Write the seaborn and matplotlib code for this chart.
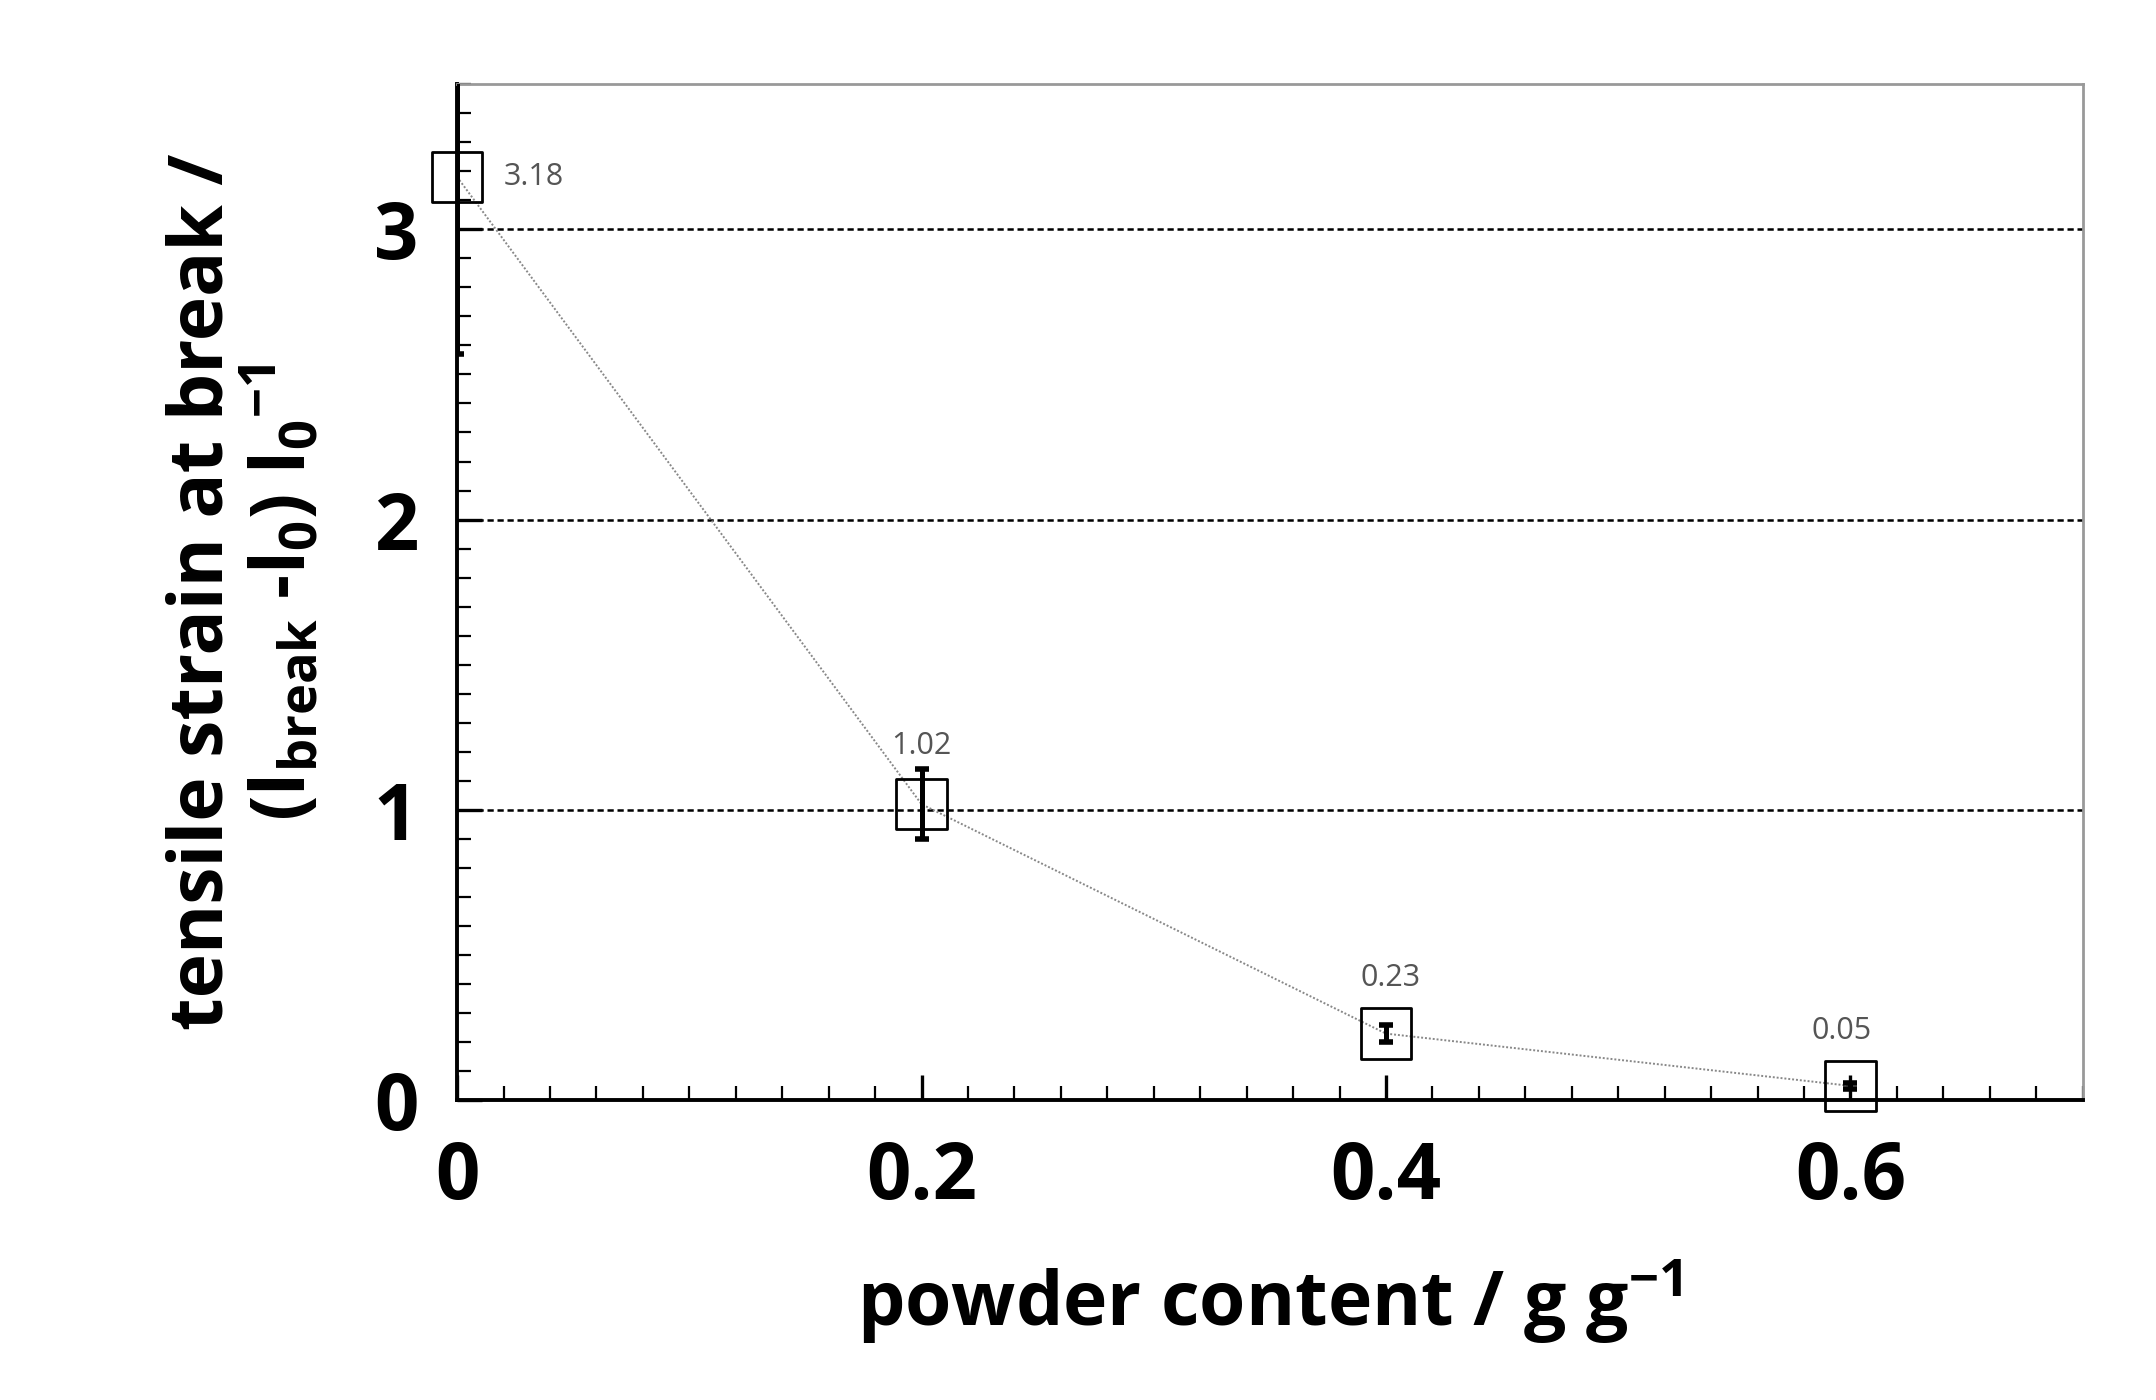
import matplotlib
matplotlib.use("Agg")
import matplotlib.pyplot as plt
import seaborn as sns
import numpy as np
import pandas as pd
from matplotlib.ticker import MultipleLocator

sns.set_theme(style="ticks")
plt.rcParams['font.family'] = ['Open Sans', 'DejaVu Sans']
plt.rcParams['text.color'] = 'black'
plt.rcParams['axes.labelcolor'] = 'black'
plt.rcParams['xtick.color'] = 'black'
plt.rcParams['ytick.color'] = 'black'

content = [0.0, 0.2, 0.4, 0.6]
strain = [3.18, 1.02, 0.23, 0.05]
err = [0.61, 0.12, 0.03, 0.01]
labels = ["3.18", "1.02", "0.23", "0.05"]

df = pd.DataFrame({"x": content, "y": strain})
fig = plt.figure(figsize=(10.78, 7), dpi=200)
ax = fig.add_axes([0.212, 0.214, 0.754, 0.726])
for v in [1, 2, 3]:
    ax.axhline(v, color="black", ls=(0, (2.5, 1.5)), lw=0.9, zorder=1)
sns.lineplot(data=df, x="x", y="y", ax=ax, color="#888888", lw=0.7, ls=(0, (1, 1)), zorder=2)
ax.errorbar(content, strain, yerr=err, fmt="none", ecolor="black", elinewidth=1.8, capsize=2.5, capthick=2, zorder=3)
sc = sns.scatterplot(data=df, x="x", y="y", ax=ax, marker="s", s=330, facecolor="none", edgecolor="black", linewidth=1.0, zorder=4)
for c in ax.collections:
    if c.get_offsets().shape[0] == 4:
        c.set_clip_on(False)
offs = [(0.02, 0.0, "left"), (0.0, 0.2, "center"), (0.002, 0.19, "center"), (-0.004, 0.19, "center")]
for x, y, t, (dx, dy, ha) in zip(content, strain, labels, offs):
    ax.text(x + dx, y + dy, t, ha=ha, va="center", fontsize=11, color="#555555")
ax.set_xlim(0, 0.7)
ax.set_ylim(0, 3.5)
ax.set_xticks([0, 0.2, 0.4, 0.6])
ax.set_xticklabels(["0", "0.2", "0.4", "0.6"])
ax.set_yticks([0, 1, 2, 3])
ax.xaxis.set_minor_locator(MultipleLocator(0.02))
ax.yaxis.set_minor_locator(MultipleLocator(0.1))
ax.tick_params(axis="both", which="major", direction="in", length=9, width=1.2, labelsize=28, pad=14,
               top=False, right=False, bottom=True, left=True)
ax.tick_params(axis="both", which="minor", direction="in", length=5, width=0.8,
               top=False, right=False, bottom=True, left=True)
for l in ax.get_xticklabels() + ax.get_yticklabels():
    l.set_fontweight("bold")
ax.set_xlabel("powder content / g g$^{\\mathregular{-1}}$", fontsize=27, fontweight="bold", labelpad=14)
ax.set_ylabel("tensile strain at break /\n(l$_{\\mathregular{break}}$ -l$_{\\mathregular{0}}$) l$_{\\mathregular{0}}$$^{\\mathregular{-1}}$",
              fontsize=27, fontweight="bold", labelpad=18, linespacing=1.0)
ax.spines["left"].set_color("black"); ax.spines["left"].set_linewidth(1.4)
ax.spines["bottom"].set_color("black"); ax.spines["bottom"].set_linewidth(1.4)
for s in ["top", "right"]:
    ax.spines[s].set_visible(True)
    ax.spines[s].set_color("#999999"); ax.spines[s].set_linewidth(1.0)
fig.savefig("out.png", dpi=200)
